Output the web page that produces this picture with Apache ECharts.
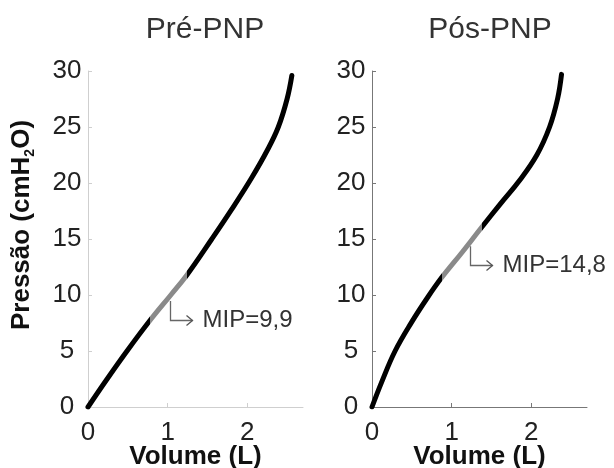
<!DOCTYPE html>
<html><head><meta charset="utf-8">
<script src="https://cdn.jsdelivr.net/npm/echarts@6/dist/echarts.min.js"></script>
<style>html,body{margin:0;padding:0;background:#fff}#c{width:614px;height:468px}</style>
</head><body><div id="c"></div>
<script>
const titles = ['Pré-PNP', 'Pós-PNP'];
const xTickValues = [0, 1, 2];
const yTickValues = [0, 5, 10, 15, 20, 25, 30];
const preVolume   = [0, 0.24, 0.49, 0.78, 1.04, 1.24, 1.555, 1.80, 2.05, 2.25, 2.39, 2.50, 2.56];
const prePressure = [0, 2.5, 5.0, 7.74, 10.0, 11.76, 15.0, 17.6, 20.4, 22.9, 25.0, 27.5, 29.6];
const posVolume   = [0, 0.12, 0.29, 0.50, 0.70, 0.88, 1.13, 1.38, 1.62, 1.85, 2.07, 2.23, 2.33, 2.38];
const posPressure = [0, 2.2, 5.0, 7.6, 9.8, 11.6, 13.8, 16.07, 18.2, 20.2, 22.5, 25.0, 27.5, 29.7];
const mipLabels = ['MIP=9,9', 'MIP=14,8'];
const mipVolume = [1.03, 1.23];
const mipPressure = [9.9, 14.8];
const mipRangeLow = [0.78, 0.88];
const mipRangeHigh = [1.24, 1.38];

const FONT = 'Liberation Sans, Arial, Helvetica, sans-serif';
const axisColors = ['#cfcfcf', '#777777'];
const grids = [
  {left: 88, top: 71, width: 215, height: 336, containLabel: false, outerBoundsMode: 'none'},
  {left: 372, top: 71, width: 215, height: 336, containLabel: false, outerBoundsMode: 'none'}
];
const zip = (a, b) => a.map((v, i) => [v, b[i]]);
const curves = [zip(preVolume, prePressure), zip(posVolume, posPressure)];

function xAxis(i) {
  return {
    type: 'value', gridIndex: i, min: 0, max: 2.7, interval: 1,
    name: 'Volume (L)', nameLocation: 'middle', nameGap: 37, nameMoveOverlap: false,
    nameTextStyle: {fontFamily: FONT, fontSize: 26, fontWeight: 'bold', color: '#111'},
    axisLine: {show: true, lineStyle: {color: axisColors[i], width: 1}},
    axisTick: {show: true, inside: true, length: 4, customValues: xTickValues, lineStyle: {color: axisColors[i]}},
    axisLabel: {customValues: xTickValues, margin: 13, fontFamily: FONT, fontSize: 26, color: '#222'},
    splitLine: {show: false}
  };
}
function yAxis(i) {
  const o = {
    type: 'value', gridIndex: i, min: 0, max: 30, interval: 5,
    axisLine: {show: true, lineStyle: {color: axisColors[i], width: 1}},
    axisTick: {show: true, inside: true, length: 4, customValues: yTickValues, lineStyle: {color: axisColors[i]}},
    axisLabel: {customValues: yTickValues, margin: 21, align: 'center', padding: [8, 0, 0, 0], fontFamily: FONT, fontSize: 26, color: '#222'},
    splitLine: {show: false}
  };
  if (i === 0) {
    o.name = 'Pressão (cmH{sub|2}O)';
    o.nameLocation = 'middle';
    o.nameGap = 51;
    o.nameMoveOverlap = false;
    o.nameTextStyle = {
      fontFamily: FONT, fontSize: 26, fontWeight: 'bold', color: '#111', lineHeight: 30,
      padding: [0, 0, 0, 28],
      rich: {sub: {fontFamily: FONT, fontSize: 14, fontWeight: 'bold', color: '#111', lineHeight: 17, verticalAlign: 'bottom'}}
    };
  }
  return o;
}
function curveSeries(i) {
  return {
    type: 'line', xAxisIndex: i, yAxisIndex: i, data: curves[i],
    showSymbol: false, smooth: 0.4, silent: true,
    lineStyle: {width: 5, cap: 'round', join: 'round'}
  };
}
function mipSeries(i) {
  return {
    type: 'custom', xAxisIndex: i, yAxisIndex: i, silent: true, z: 5,
    data: [[mipVolume[i], mipPressure[i]]],
    renderItem: (params, api) => {
      const p = api.coord([api.value(0), api.value(1)]);
      const x = Math.round(p[0]) + 0.5, y0 = p[1] + 5, y1 = Math.round(p[1] + 23.5) + 0.5, x1 = x + 22;
      return {type: 'group', children: [
        {type: 'polyline', shape: {points: [[x, y0], [x, y1], [x1, y1]]}, style: {stroke: '#666', lineWidth: 1.3, fill: null}},
        {type: 'polyline', shape: {points: [[x1 - 6, y1 - 5], [x1, y1], [x1 - 6, y1 + 5]]}, style: {stroke: '#555', lineWidth: 1.3, fill: null}},
        {type: 'text', style: {x: x1 + 10, y: y1, text: mipLabels[i], fill: '#333', fontFamily: FONT, fontSize: 24, verticalAlign: 'middle', align: 'left'}}
      ]};
    }
  };
}

const chart = echarts.init(document.getElementById('c'), null, {renderer: 'canvas'});
chart.setOption({
  animation: false,
  backgroundColor: '#fff',
  title: [
    {text: titles[0], left: 200, top: 10, textAlign: 'center', textStyle: {fontFamily: FONT, fontSize: 30, fontWeight: 'normal', color: '#333'}},
    {text: titles[1], left: 485, top: 10, textAlign: 'center', textStyle: {fontFamily: FONT, fontSize: 30, fontWeight: 'normal', color: '#333'}}
  ],
  grid: grids,
  xAxis: [xAxis(0), xAxis(1)],
  yAxis: [yAxis(0), yAxis(1)],
  visualMap: [0, 1].map(i => ({
    type: 'piecewise', show: false, seriesIndex: i, dimension: 0,
    pieces: [
      {lt: mipRangeLow[i], color: '#000'},
      {gte: mipRangeLow[i], lte: mipRangeHigh[i], color: '#8a8a8a'},
      {gt: mipRangeHigh[i], color: '#000'}
    ]
  })),
  series: [curveSeries(0), curveSeries(1), mipSeries(0), mipSeries(1)]
});
</script></body></html>
